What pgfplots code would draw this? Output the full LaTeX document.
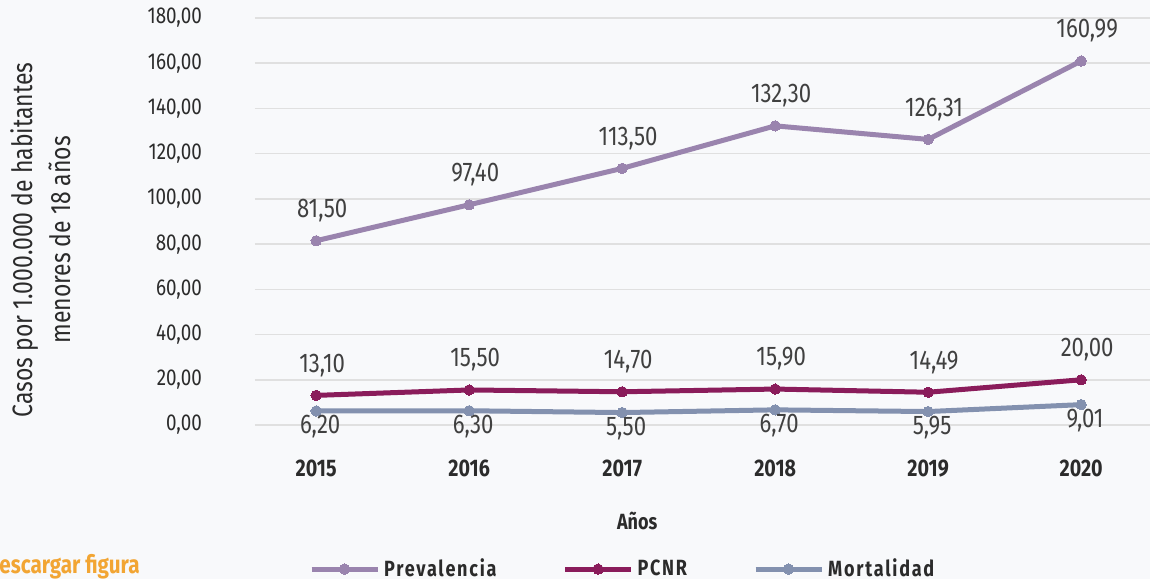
\documentclass[border=0pt]{standalone}
\usepackage{pgfplots}
\pgfplotsset{compat=1.18}
\usepackage{fontspec}
\setmainfont{Fira Sans}[FakeStretch=0.82]
\newfontfamily\legfont{Fira Sans}[FakeStretch=0.82, LetterSpace=8]

\definecolor{bgc}{HTML}{F8F9FB}
\definecolor{prev}{HTML}{9A84AE}
\definecolor{pcnr}{HTML}{8A1C5B}
\definecolor{mort}{HTML}{8391AF}
\definecolor{txt}{HTML}{2B2B2B}
\definecolor{dl}{HTML}{F2A533}

\begin{document}
\begin{tikzpicture}
\useasboundingbox (-127.5pt,-77pt) rectangle (447.5pt,212.5pt);
\fill[bgc] (-127.5pt,-77pt) rectangle (447.5pt,212.5pt);
\begin{axis}[
    at={(0pt,0pt)}, anchor=south west,
    scale only axis,
    width=447.5pt, height=203.5pt,
    xmin=2014.6, xmax=2020.45,
    ymin=0, ymax=180,
    xtick={2015,2016,2017,2018,2019,2020},
    ytick={0,20,40,60,80,100,120,140,160,180},
    ymajorgrids,
    grid style={black!12, line width=0.8pt},
    axis line style={draw=none},
    major tick length=0pt,
    /pgf/number format/assume math mode=true,
    xticklabel style={font=\fontsize{12}{14}\selectfont\bfseries, text=txt, yshift=-13pt,
        /pgf/number format/1000 sep={}},
    yticklabel style={font=\fontsize{11.5}{13}\selectfont, text=txt, xshift=-22pt,
        /pgf/number format/.cd, fixed, fixed zerofill, precision=2, use comma, 1000 sep={}},
    xlabel={Años},
    xlabel style={at={(axis description cs:0.427,-0.236)}, anchor=center,
        font=\fontsize{11}{12}\selectfont\bfseries, text=txt},
    ylabel={Casos por 1.000.000 de habitantes\\menores de 18 años},
    ylabel style={at={(axis description cs:-0.239,0.455)}, anchor=center, align=center,
        font=\fontsize{14}{19}\selectfont, text=txt},
    legend style={at={(axis description cs:0.412,-0.354)}, anchor=center,
        legend columns=3, draw=none, fill=none,
        font=\legfont\fontsize{11}{12}\selectfont\bfseries, text=txt,
        /tikz/every even column/.append style={column sep=31pt}},
    legend image code/.code={
        \draw[mark repeat=2, mark phase=2, #1] plot coordinates {(0pt,0pt) (16.5pt,0pt) (33pt,0pt)};
    },
    line width=2.5pt,
    mark size=2.6pt,
    nodes near coords={\pgfmathprintnumber[fixed, fixed zerofill, precision=2, use comma, assume math mode=true]{\pgfplotspointmeta}},
    every node near coord/.append style={font=\fontsize{13.5}{15}\selectfont, text=black!75},
]
\addplot[prev, mark=*, mark options={line width=0pt}, nodes near coords style={anchor=south, yshift=6pt, xshift=3pt}]
    coordinates {(2015,81.50) (2016,97.40) (2017,113.50) (2018,132.30) (2019,126.31) (2020,160.99)};
\addlegendentry{Prevalencia}
\addplot[pcnr, mark=*, mark options={line width=0pt}, nodes near coords style={anchor=south, yshift=6pt, xshift=3pt}]
    coordinates {(2015,13.10) (2016,15.50) (2017,14.70) (2018,15.90) (2019,14.49) (2020,20.00)};
\addlegendentry{PCNR}
\addplot[mort, mark=*, mark options={line width=0pt}, nodes near coords style={anchor=north, yshift=1pt, xshift=2pt}]
    coordinates {(2015,6.20) (2016,6.30) (2017,5.50) (2018,6.70) (2019,5.95) (2020,9.01)};
\addlegendentry{Mortalidad}
\end{axis}
\node[anchor=base east, text=dl, font=\fontsize{12.6}{14}\selectfont\bfseries, inner sep=0pt]
    at (-57.5pt,-74pt) {\underline{Descargar figura}};
\end{tikzpicture}
\end{document}
